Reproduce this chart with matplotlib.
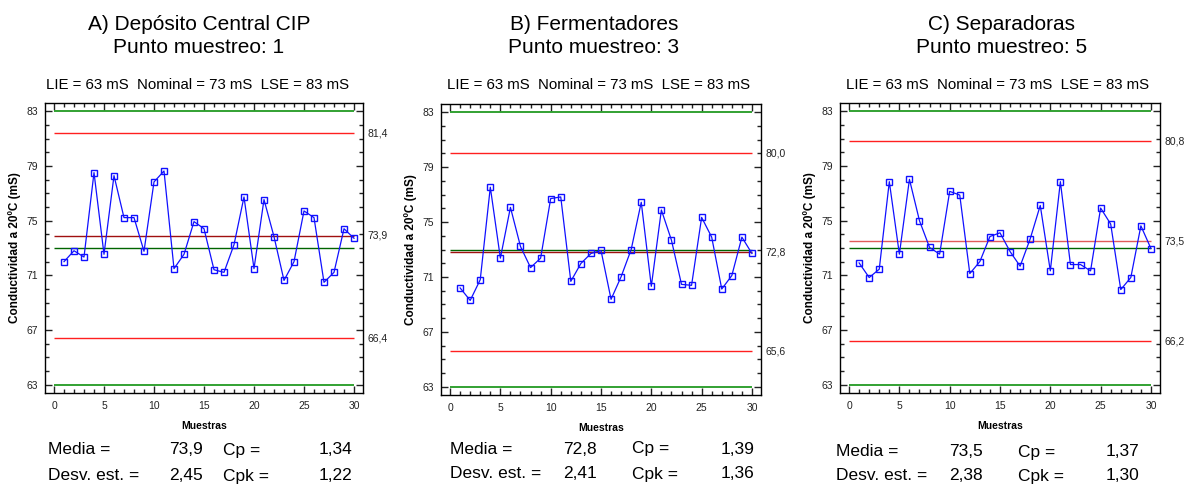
import numpy as np
import matplotlib
matplotlib.use("Agg")
import matplotlib.pyplot as plt
from matplotlib.ticker import MultipleLocator

plt.rcParams['font.family'] = ['Liberation Sans', 'DejaVu Sans']

## Data
muestras = np.arange(1, 31)

vals_a = [72.0, 72.8, 72.34, 78.51, 72.54, 78.29, 75.22, 75.22, 72.76, 77.83,
          78.63, 71.49, 72.54, 74.93, 74.41, 71.41, 71.22, 73.24, 76.73, 71.49,
          76.54, 73.83, 70.63, 72.0, 75.71, 75.22, 70.49, 71.22, 74.41, 73.71]
vals_b = [70.2, 69.29, 70.8, 77.54, 72.37, 76.07, 73.22, 71.68, 72.37, 76.71,
          76.83, 70.68, 71.98, 72.71, 72.93, 69.37, 71.02, 73.0, 76.44, 70.32,
          75.88, 73.68, 70.46, 70.39, 75.34, 73.9, 70.12, 71.1, 73.9, 72.71]
vals_c = [71.91, 70.84, 71.45, 77.85, 72.55, 78.02, 74.99, 73.04, 72.55, 77.14,
          76.87, 71.13, 72.01, 73.84, 74.11, 72.74, 71.67, 73.67, 76.11, 71.33,
          77.85, 71.79, 71.79, 71.33, 75.92, 74.75, 69.96, 70.84, 74.62, 72.96]

titles = ["A) Depósito Central CIP\nPunto muestreo: 1",
          "B) Fermentadores\nPunto muestreo: 3",
          "C) Separadoras\nPunto muestreo: 5"]
ucl = [81.4, 80.0, 80.8]
centro = [73.9, 72.8, 73.5]
lcl = [66.4, 65.6, 66.2]
media_txt = ["73,9", "72,8", "73,5"]
desv_txt = ["2,45", "2,41", "2,38"]
cp_txt = ["1,34", "1,39", "1,37"]
cpk_txt = ["1,22", "1,36", "1,30"]
lie, nominal, lse = 63, 73, 83

## Layout in pixels (figure 1184 x 484)
W, H = 1184, 484
axes_px = [(45, 103, 363, 393), (441, 104, 761, 395), (840, 103, 1160, 393)]
title_x = [199, 594, 1002]
spec_x = [198, 599, 998]
stats_x = [(48, 203, 223, 352), (450, 597, 632, 754), (836, 983, 1018, 1139)]
stats_y = [(450, 476), (449, 474), (452, 476)]
centro_col = ["#a01010", "#a01010", "#e05a5a"]

fig = plt.figure(figsize=(W / 100, H / 100), dpi=100)


def fx(px):
    return px / W


def fy(py):
    return 1 - py / H


for i, vals in enumerate([vals_a, vals_b, vals_c]):
    l, t, r, b = axes_px[i]
    ax = fig.add_axes([fx(l), fy(b), (r - l) / W, (b - t) / H])

    ax.hlines([lse, lie], 0, 30, color="#229a22", lw=1.3)
    ax.hlines(nominal, 0, 30, color="#006400", lw=1.0)
    ax.hlines([ucl[i], lcl[i]], 0, 30, color="#ff2020", lw=1.0)
    ax.hlines(centro[i], 0, 30, color=centro_col[i], lw=1.0)
    ax.plot(muestras, vals, color="#1010ff", lw=0.9, marker="s", ms=3.8,
            mfc="none", mec="#1010ff", mew=1.0)

    ax.set_xlim(-0.9, 30.9)
    ax.set_ylim(62.4, 83.6)
    ax.xaxis.set_major_locator(MultipleLocator(5))
    ax.xaxis.set_minor_locator(MultipleLocator(1))
    ax.set_yticks([63, 67, 71, 75, 79, 83])
    ax.yaxis.set_minor_locator(MultipleLocator(1))
    ax.tick_params(which="both", direction="in", top=True, right=True,
                   labelsize=7.5, colors="#222222", width=1.0)
    ax.tick_params(which="major", length=5)
    ax.tick_params(which="minor", length=3)
    ax.tick_params(axis="x", pad=6)
    ax.tick_params(axis="y", pad=5)
    for sp in ax.spines.values():
        sp.set_linewidth(1.0)
    ax.set_xlabel("Muestras", fontsize=7.5, fontweight="bold", labelpad=7)
    ax.set_ylabel("Conductividad a 20ºC (mS)", fontsize=8.5,
                  fontweight="bold", labelpad=4)

    for v in [ucl[i], centro[i], lcl[i]]:
        ax.text(31.3, v, f"{v:.1f}".replace(".", ","), fontsize=7.5,
                color="#222222", va="center", ha="left", clip_on=False)

    fig.text(fx(title_x[i]), fy(36), titles[i], fontsize=15, ha="center",
             va="center", linespacing=1.3)
    fig.text(fx(spec_x[i]), fy(85),
             f"LIE = {lie} mS  Nominal = {nominal} mS  LSE = {lse} mS",
             fontsize=10.8, ha="center", va="center")

    x0, x1, x2, x3 = stats_x[i]
    y0, y1 = stats_y[i]
    fs = 12.5
    fig.text(fx(x0), fy(y0), "Media =", fontsize=fs, va="center")
    fig.text(fx(x1), fy(y0), media_txt[i], fontsize=fs, va="center", ha="right")
    fig.text(fx(x2), fy(y0), "Cp =", fontsize=fs, va="center")
    fig.text(fx(x3), fy(y0), cp_txt[i], fontsize=fs, va="center", ha="right")
    fig.text(fx(x0), fy(y1), "Desv. est. =", fontsize=fs, va="center")
    fig.text(fx(x1), fy(y1), desv_txt[i], fontsize=fs, va="center", ha="right")
    fig.text(fx(x2), fy(y1), "Cpk =", fontsize=fs, va="center")
    fig.text(fx(x3), fy(y1), cpk_txt[i], fontsize=fs, va="center", ha="right")

fig.savefig("out.png", dpi=100)
